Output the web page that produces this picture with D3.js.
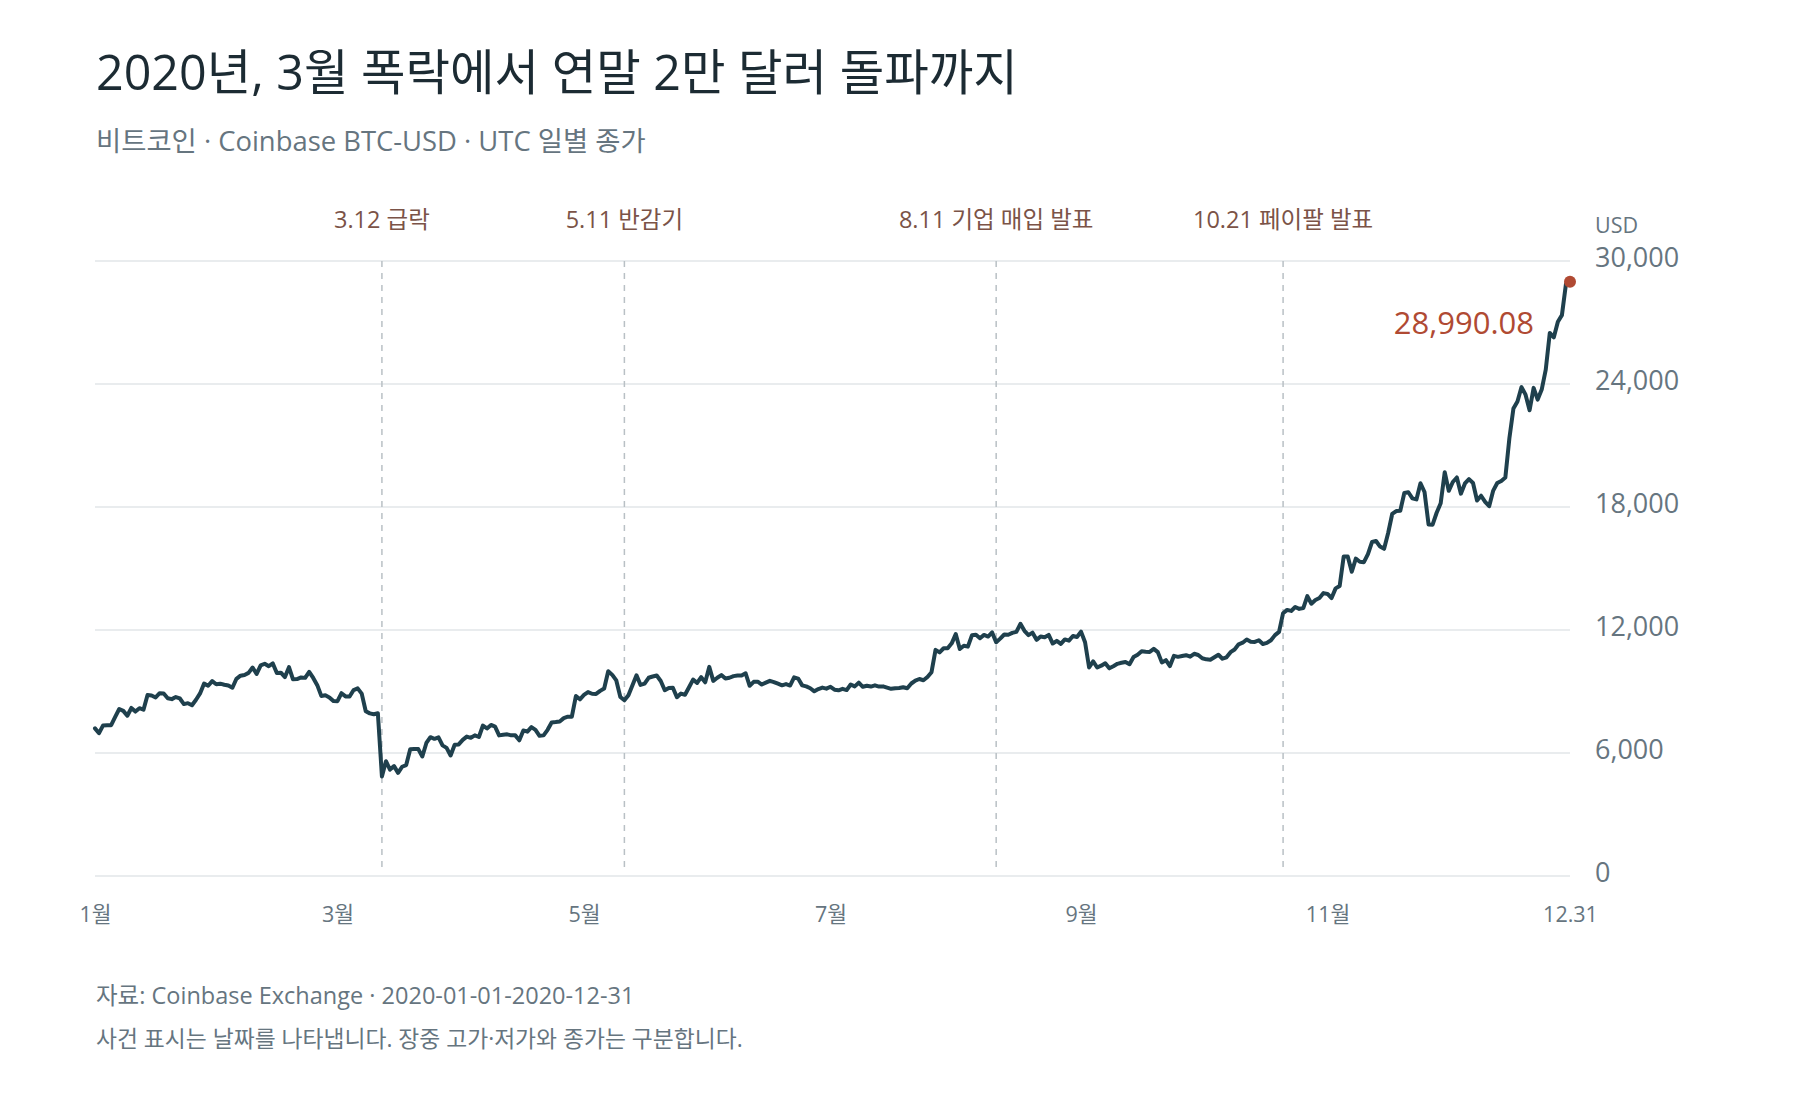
<!DOCTYPE html>
<html lang="ko">
<head>
<meta charset="utf-8">
<script src="https://cdn.jsdelivr.net/npm/d3@7"></script>
<style>
  html, body { margin: 0; padding: 0; background: #fff; }
  svg { display: block; font-family: "Open Sans", "Noto Sans CJK KR", sans-serif; }
</style>
</head>
<body>
<svg id="chart" width="1800" height="1100"></svg>
<script>
// ===== DATA (Coinbase BTC-USD daily close, 2020) =====
const jan = [7200, 6966, 7345, 7354, 7359, 7758, 8145, 8056, 7818, 8197, 8020, 8185, 8110, 8826, 8807, 8710, 8916, 8900, 8671, 8628, 8730, 8660, 8385, 8431, 8330, 8596, 8908, 9389, 9283, 9509, 9353];
const feb = [9383, 9331, 9291, 9184, 9620, 9770, 9809, 9909, 10170, 9856, 10273, 10354, 10236, 10367, 9905, 9917, 9704, 10187, 9597, 9606, 9686, 9665, 9961, 9660, 9310, 8785, 8818, 8712, 8532];
const mar = [8526, 8917, 8760, 8755, 9071, 9152, 8897, 8035, 7934, 7890, 7938, 4857, 5600, 5190, 5360, 5030, 5330, 5410, 6180, 6200, 6190, 5830, 6490, 6770, 6690, 6760, 6370, 6250, 5880, 6400, 6420];
const apr = [6640, 6800, 6740, 6860, 6780, 7340, 7200, 7370, 7290, 6860, 6890, 6910, 6860, 6860, 6620, 7100, 7040, 7260, 7130, 6840, 6860, 7130, 7490, 7510, 7540, 7700, 7770, 7770, 8780, 8620];
const may = [8830, 8970, 8890, 8880, 9030, 9150, 9990, 9810, 9540, 8730, 8570, 8820, 9310, 9790, 9320, 9380, 9670, 9730, 9780, 9510, 9060, 9170, 9180, 8720, 8900, 8840, 9210, 9580, 9420, 9700, 9450];
const jun = [10200, 9520, 9670, 9800, 9630, 9670, 9750, 9780, 9780, 9890, 9280, 9470, 9480, 9340, 9430, 9520, 9460, 9380, 9300, 9360, 9290, 9690, 9630, 9300, 9250, 9160, 9010, 9120, 9190, 9140];
const jul = [9230, 9090, 9060, 9130, 9070, 9340, 9250, 9430, 9230, 9280, 9240, 9300, 9240, 9250, 9190, 9130, 9160, 9170, 9210, 9160, 9390, 9530, 9610, 9550, 9710, 9940, 11030, 10910, 11110, 11110, 11350];
const aug = [11800, 11070, 11230, 11190, 11740, 11770, 11600, 11760, 11680, 11880, 11400, 11580, 11780, 11770, 11860, 11910, 12300, 11960, 11750, 11870, 11520, 11680, 11650, 11760, 11340, 11470, 11320, 11540, 11480, 11710, 11660];
const sep = [11920, 11400, 10170, 10470, 10170, 10260, 10380, 10130, 10230, 10350, 10400, 10440, 10330, 10680, 10790, 10960, 10940, 10930, 11080, 10920, 10420, 10530, 10240, 10740, 10690, 10730, 10770, 10700, 10840, 10780];
const oct = [10620, 10570, 10550, 10670, 10790, 10600, 10670, 10920, 11050, 11300, 11380, 11540, 11430, 11420, 11500, 11320, 11370, 11500, 11750, 11910, 12820, 12980, 12930, 13120, 13030, 13070, 13650, 13280, 13460, 13560, 13800];
const nov = [13760, 13560, 14030, 14150, 15590, 15590, 14840, 15480, 15330, 15310, 15700, 16290, 16340, 16070, 15960, 16730, 17660, 17800, 17820, 18680, 18720, 18420, 18370, 19160, 18730, 17150, 17140, 17720, 18180, 19700];
const dec = [18790, 19220, 19440, 18650, 19150, 19360, 19170, 18320, 18550, 18250, 18040, 18800, 19170, 19270, 19440, 21350, 22800, 23150, 23850, 23480, 22720, 23810, 23240, 23730, 24700, 26490, 26280, 27040, 27360, 28880, 28990.08];

const months = [jan, feb, mar, apr, may, jun, jul, aug, sep, oct, nov, dec];

const events = [
  { date: "2020-03-12", label: "3.12 급락" },
  { date: "2020-05-11", label: "5.11 반감기" },
  { date: "2020-08-11", label: "8.11 기업 매입 발표" },
  { date: "2020-10-21", label: "10.21 페이팔 발표" }
];

const yTicks = [0, 6000, 12000, 18000, 24000, 30000];
const xTickDates = ["2020-01-01", "2020-03-01", "2020-05-01", "2020-07-01", "2020-09-01", "2020-11-01", "2020-12-31"];
const xTickLabels = ["1월", "3월", "5월", "7월", "9월", "11월", "12.31"];

// build daily rows from the month arrays
const series = [];
months.forEach((vals, m) => {
  vals.forEach((v, i) => series.push({ date: new Date(Date.UTC(2020, m, i + 1)), close: v }));
});

const parse = d3.utcParse("%Y-%m-%d");
const FONT = '"Open Sans", "Noto Sans CJK KR", sans-serif';

// ===== LAYOUT =====
const svg = d3.select("#chart");
const plotLeft = 95, plotRight = 1570, plotTop = 261, plotBottom = 876;

const x = d3.scaleUtc()
  .domain([parse("2020-01-01"), parse("2020-12-31")])
  .range([plotLeft, plotRight]);

const y = d3.scaleLinear()
  .domain([0, 30000])
  .range([plotBottom, plotTop]);

// ===== TITLES =====
svg.append("text")
  .attr("x", 96).attr("y", 90)
  .attr("font-size", 48.4)
  .attr("fill", "#1c2b33")
  .text("2020년, 3월 폭락에서 연말 2만 달러 돌파까지");

svg.append("text")
  .attr("x", 96).attr("y", 151)
  .attr("font-size", 27.4)
  .attr("fill", "#66757f")
  .text("비트코인 · Coinbase BTC-USD · UTC 일별 종가");

// ===== GRID =====
svg.append("g")
  .selectAll("line")
  .data(yTicks)
  .join("line")
  .attr("x1", plotLeft).attr("x2", plotRight)
  .attr("y1", d => y(d)).attr("y2", d => y(d))
  .attr("stroke", "#e2e6e9")
  .attr("stroke-width", 1.5);

// y labels on the right
const yAxis = svg.append("g")
  .attr("transform", `translate(${plotRight},0)`)
  .call(d3.axisRight(y).tickValues(yTicks).tickSize(0).tickPadding(25)
    .tickFormat(d3.format(",")));
yAxis.select(".domain").remove();
yAxis.selectAll("text")
  .attr("font-family", FONT)
  .attr("font-size", 27)
  .attr("fill", "#66757f")
  .attr("dy", "0.2em");

svg.append("text")
  .attr("x", plotRight + 25).attr("y", 233)
  .attr("font-size", 21.5)
  .attr("fill", "#66757f")
  .text("USD");

// ===== EVENT MARKERS =====
const ev = svg.append("g");
ev.selectAll("line")
  .data(events)
  .join("line")
  .attr("x1", d => x(parse(d.date))).attr("x2", d => x(parse(d.date)))
  .attr("y1", plotTop).attr("y2", plotBottom - 8)
  .attr("stroke", "#b9c0c5")
  .attr("stroke-width", 1.5)
  .attr("stroke-dasharray", "6,6");

ev.selectAll("text")
  .data(events)
  .join("text")
  .attr("x", d => x(parse(d.date)))
  .attr("y", 228)
  .attr("text-anchor", "middle")
  .attr("font-size", 23.5)
  .attr("fill", "#7b5347")
  .text(d => d.label);

// ===== X AXIS =====
const xAxis = svg.append("g")
  .attr("transform", `translate(0,${plotBottom})`)
  .call(d3.axisBottom(x)
    .tickValues(xTickDates.map(parse))
    .tickSize(0).tickPadding(31)
    .tickFormat((d, i) => xTickLabels[i]));
xAxis.select(".domain").remove();
xAxis.selectAll("text")
  .attr("font-family", FONT)
  .attr("font-size", 21.5)
  .attr("fill", "#66757f");

// ===== PRICE LINE =====
const line = d3.line()
  .x(d => x(d.date))
  .y(d => y(d.close));

svg.append("path")
  .datum(series)
  .attr("d", line)
  .attr("fill", "none")
  .attr("stroke", "#1f404d")
  .attr("stroke-width", 4)
  .attr("stroke-linejoin", "round")
  .attr("stroke-linecap", "round");

// last value
const last = series[series.length - 1];
svg.append("circle")
  .attr("cx", x(last.date)).attr("cy", y(last.close))
  .attr("r", 6)
  .attr("fill", "#b04a33");

svg.append("text")
  .attr("x", x(last.date) - 36).attr("y", y(last.close) + 52)
  .attr("text-anchor", "end")
  .attr("font-size", 31)
  .attr("fill", "#b04a33")
  .text(d3.format(",.2f")(last.close));

// ===== FOOTER =====
svg.append("text")
  .attr("x", 96).attr("y", 1004)
  .attr("font-size", 23.5)
  .attr("fill", "#66757f")
  .text("자료: Coinbase Exchange · 2020-01-01-2020-12-31");

svg.append("text")
  .attr("x", 96).attr("y", 1047)
  .attr("font-size", 22.8)
  .attr("fill", "#66757f")
  .text("사건 표시는 날짜를 나타냅니다. 장중 고가·저가와 종가는 구분합니다.");
</script>
</body>
</html>
